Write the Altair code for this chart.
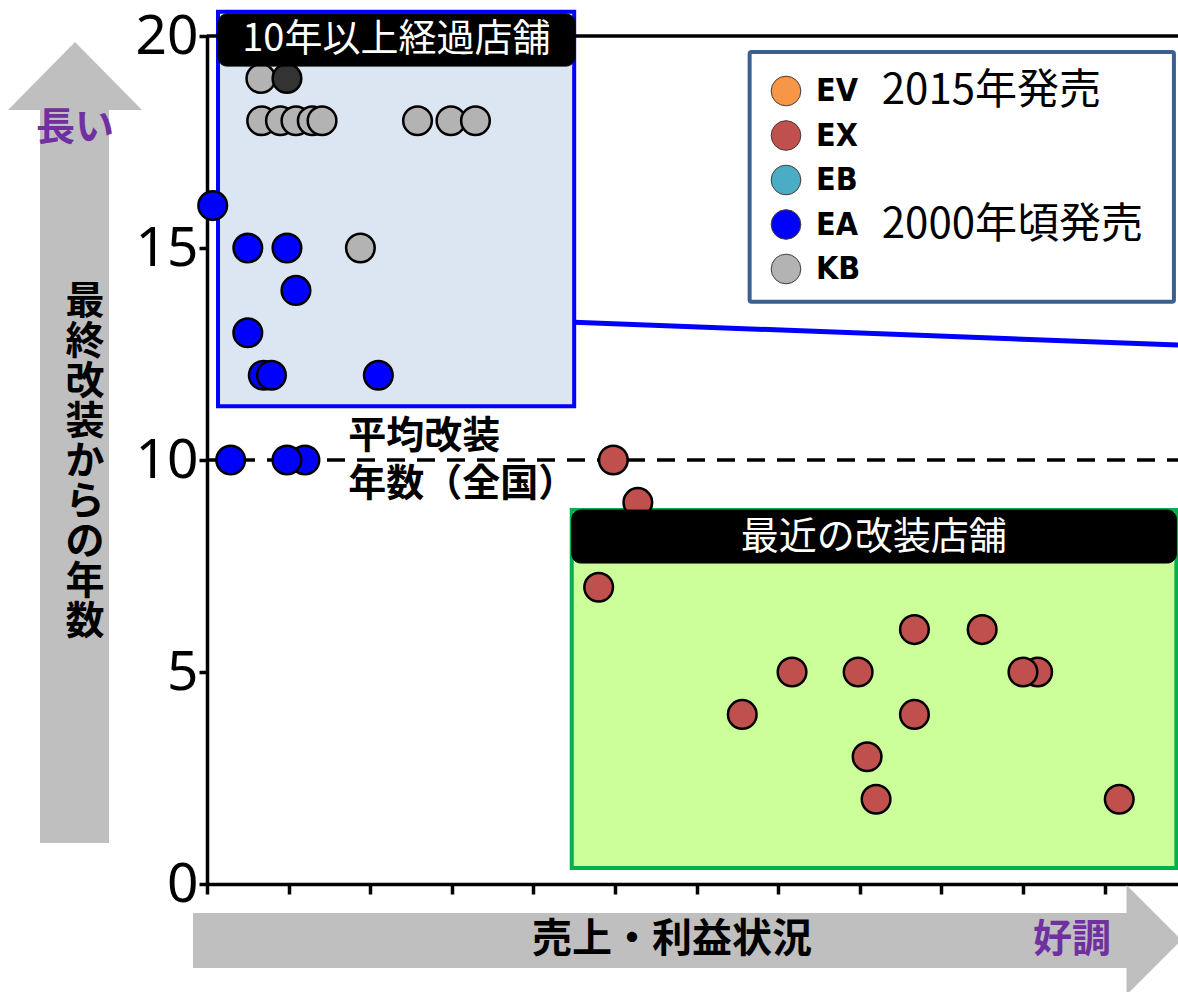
import altair as alt
import pandas as pd

# ---- store data: sales/profit position (x) vs years since last renovation (y) ----
kb_x = [0.66, 0.67, 0.90, 1.09, 1.29, 1.41, 2.58, 2.99, 3.29, 1.88]
kb_y = [19, 18, 18, 18, 18, 18, 18, 18, 18, 15]

kb_dark_x = [0.98]
kb_dark_y = [19]

ea_x = [0.07, 0.50, 0.98, 1.09, 0.50, 0.69, 0.79, 2.10, 0.29, 1.20, 0.98]
ea_y = [16, 15, 15, 14, 13, 12, 12, 12, 10, 10, 10]

ex_x = [4.98, 5.28, 4.80, 6.56, 7.17, 7.98, 8.09, 8.20, 8.67, 8.67, 9.50, 10.18, 10.00, 11.18]
ex_y = [10, 9, 7, 4, 5, 5, 3, 2, 6, 4, 6, 5, 5, 2]

series_names = ["EV", "EX", "EB", "EA", "KB"]
series_colors = ["#f79646", "#c0504d", "#4bacc6", "#0000ff", "#b3b3b3"]

national_avg_years = 10

y_ticks = [0, 5, 10, 15, 20]
x_ticks = list(range(0, 12))

X_MAX = 11.9
W, H = 971, 848
PAD_L, PAD_T = 207, 36

JP = "Noto Sans CJK JP"
NARROW = "'Liberation Sans Narrow', 'DejaVu Sans Condensed', 'Roboto Condensed', Roboto, sans-serif"

points = pd.concat(
    [
        pd.DataFrame({"series": ["KB"] * len(kb_x), "x": kb_x, "y": kb_y}),
        pd.DataFrame({"series": ["EA"] * len(ea_x), "x": ea_x, "y": ea_y}),
        pd.DataFrame({"series": ["EX"] * len(ex_x), "x": ex_x, "y": ex_y}),
    ],
    ignore_index=True,
)
dark = pd.DataFrame({"x": kb_dark_x, "y": kb_dark_y})

xs = alt.Scale(domain=[0, X_MAX], nice=False, zero=False)
ys = alt.Scale(domain=[0, 20], nice=False)

# one axis definition shared by every layer in data coordinates
x_axis = alt.Axis(
    values=x_ticks, labels=False, title=None, grid=False,
    domainColor="black", domainWidth=3.5, tickColor="black", tickWidth=3.5, tickSize=10,
)
y_axis = alt.Axis(
    values=y_ticks, title=None, grid=False,
    domainColor="black", domainWidth=3.5, tickColor="black", tickWidth=3.5, tickSize=8,
    labelFont="Noto Sans", labelFontSize=55, labelColor="black", labelPadding=1,
    labelFontWeight="normal",
)


def X(field):
    return alt.X(field, scale=xs, axis=x_axis)


def Y(field):
    return alt.Y(field, scale=ys, axis=y_axis)


one = pd.DataFrame({"k": [0]})


def box(x1, x2, y1, y2, fill, stroke, sw, radius=0):
    d = pd.DataFrame({"x": [x1], "x2": [x2], "y": [y1], "y2": [y2]})
    return alt.Chart(d).mark_rect(
        fill=fill, stroke=stroke, strokeWidth=sw, cornerRadius=radius
    ).encode(x=X("x:Q"), x2="x2:Q", y=Y("y:Q"), y2="y2:Q")


def label(x, y, txt, size, color="black", weight="normal", align="center"):
    d = pd.DataFrame({"x": [x], "y": [y], "t": [txt]})
    return alt.Chart(d).mark_text(
        font=JP, fontSize=size, fontWeight=weight, color=color,
        align=align, baseline="middle",
    ).encode(x=X("x:Q"), y=Y("y:Q"), text="t:N")


def seg(x1, y1, x2, y2, color, width):
    d = pd.DataFrame({"x": [x1, x2], "y": [y1, y2], "o": [0, 1]})
    return alt.Chart(d).mark_line(color=color, strokeWidth=width, strokeCap="butt").encode(
        x=X("x:Q"), y=Y("y:Q"), order="o:Q"
    )


# region boxes
old_box = box(0.135, 4.50, 11.27, 20.57, "#dce6f2", "#0000ff", 4)
new_box = box(4.47, 11.88, 0.38, 8.82, "#ccff99", "#00b050", 4)

top_line = seg(0, 20, X_MAX, 20, "black", 3.5)
avg_line = alt.Chart(pd.DataFrame({"y": [national_avg_years]})).mark_rule(
    color="black", strokeWidth=3.5, strokeDash=[18, 12]
).encode(y=Y("y:Q"), x=alt.value(0), x2=alt.value(W))
connector = seg(4.50, 13.25, X_MAX, 12.71, "#0000ff", 5)

pts = alt.Chart(points).mark_point(
    filled=True, shape="circle", size=820, stroke="black", strokeWidth=2.5, opacity=1
).encode(
    x=X("x:Q"),
    y=Y("y:Q"),
    fill=alt.Fill(
        "series:N",
        scale=alt.Scale(domain=series_names, range=series_colors),
        legend=alt.Legend(
            title=None, orient="none", legendX=563, legendY=39,
            symbolType="circle", symbolSize=880, symbolStrokeColor="#4a3a3a",
            symbolStrokeWidth=1, symbolOpacity=1,
            labelFont=NARROW, labelFontWeight="bold",
            labelFontSize=32, labelColor="black", labelOffset=14,
            rowPadding=10.5, padding=0, strokeColor="transparent",
        ),
    ),
)
dark_pt = alt.Chart(dark).mark_point(
    filled=True, shape="circle", size=820, fill="#333333", stroke="black",
    strokeWidth=2.5, opacity=1,
).encode(x=X("x:Q"), y=Y("y:Q"))

old_tag = box(0.135, 4.51, 19.29, 20.52, "black", "black", 1, radius=9)
old_txt = label(2.32, 19.9, "10年以上経過店舗", 38, color="white")
new_tag = box(4.47, 11.88, 7.57, 8.82, "black", "black", 1, radius=9)
new_txt = label(8.17, 8.17, "最近の改装店舗", 38, color="white")

avg_txt1 = label(1.73, 10.54, "平均改装", 38, weight="bold", align="left")
avg_txt2 = label(1.73, 9.40, "年数（全国）", 38, weight="bold", align="left")

legend_box = box(6.65, 11.85, 13.73, 19.62, "white", "#3b5f8e", 4, radius=2)
leg_note1 = label(8.27, 18.70, "2015年発売", 42, align="left")
leg_note2 = label(8.27, 15.54, "2000年頃発売", 42, align="left")

# axis-direction arrows around the plot (pixel positions relative to the plot origin)
GRAY = "#bfbfbf"
PURPLE = "#7030a0"


def prect(x1, x2, y1, y2, color):
    return alt.Chart(one).mark_rect(color=color).encode(
        x=alt.value(x1), x2=alt.value(x2), y=alt.value(y1), y2=alt.value(y2)
    )


def ptri(cx, cy, path, size, color):
    return alt.Chart(one).mark_point(
        shape=path, size=size, filled=True, color=color, opacity=1, strokeWidth=0
    ).encode(x=alt.value(cx), y=alt.value(cy))


def ptext(cx, cy, txt, size, color="black", line_height=None):
    kw = dict(font=JP, fontSize=size, fontWeight="bold", color=color,
              align="center", baseline="middle")
    if line_height:
        kw["lineHeight"] = line_height
    return alt.Chart(one).mark_text(text=txt, **kw).encode(
        x=alt.value(cx), y=alt.value(cy)
    )


up_shaft = prect(40 - PAD_L, 109 - PAD_L, 108 - PAD_T, 843 - PAD_T, GRAY)
up_head = ptri(75 - PAD_L, 76 - PAD_T, "M-1,0.507L1,0.507L0,-0.507Z", 134 ** 2, GRAY)
up_txt1 = ptext(75 - PAD_L, 128 - PAD_T, "長い", 39, PURPLE)
up_txt2 = ptext(85 - PAD_L, 302 - PAD_T, list("最終改装からの年数"), 39, line_height=40)

right_shaft = prect(193 - PAD_L, 1130 - PAD_L, 913 - PAD_T, 968 - PAD_T, GRAY)
right_head = ptri(1154 - PAD_L, 940 - PAD_T, "M-0.5,-1L0.5,0L-0.5,1Z", 110 ** 2, GRAY)
right_txt1 = ptext(672 - PAD_L, 940 - PAD_T, "売上・利益状況", 40)
right_txt2 = ptext(1072 - PAD_L, 940 - PAD_T, "好調", 39, PURPLE)

chart = alt.layer(
    up_shaft, up_head, up_txt1, up_txt2,
    right_shaft, right_head, right_txt1, right_txt2,
    old_box, new_box, top_line, avg_line, connector,
    pts, dark_pt,
    old_tag, old_txt, new_tag, new_txt, avg_txt1, avg_txt2,
    legend_box, leg_note1, leg_note2,
).properties(
    width=W, height=H,
    autosize=alt.AutoSizeParams(type="none"),
    padding={"left": PAD_L, "top": PAD_T, "right": 0, "bottom": 992 - PAD_T - H},
    background="white",
).configure_view(stroke=None)

chart.save("out.html", embed_options={"renderer": "svg", "actions": False})
